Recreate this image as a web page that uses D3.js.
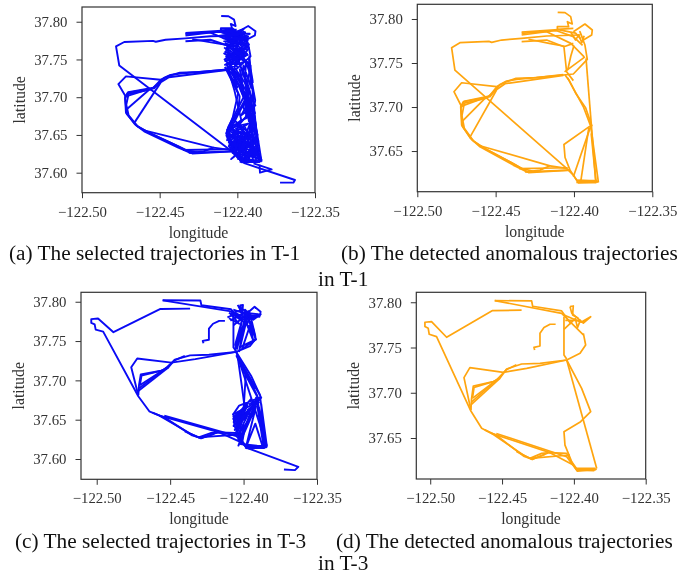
<!DOCTYPE html>
<html>
<head>
<meta charset="utf-8">
<script src="https://cdnjs.cloudflare.com/ajax/libs/d3/7.8.5/d3.min.js"></script>
<style>
  html, body { margin: 0; padding: 0; background: #fff; }
  svg { display: block; filter: blur(0.35px); }
  .axis text { font-family: "Liberation Serif", serif; font-size: 14.8px; fill: #333; }
  .axis-label { font-family: "Liberation Serif", serif; font-size: 15.8px; fill: #333; text-anchor: middle; }
  .caption { font-family: "Liberation Serif", serif; font-size: 21.3px; fill: #111; }
</style>
</head>
<body>
<div id="chart"></div>
<script>
let xTicks = [-122.50, -122.45, -122.40, -122.35];
let yTicksLong = [37.60, 37.65, 37.70, 37.75, 37.80];
let yTicksShort = [37.65, 37.70, 37.75, 37.80];

// T-1 anomalous trajectories, (b)
let routesT1 = [
  [[-122.3962,37.7818],[-122.4174,37.7807],[-122.4334,37.778],[-122.4462,37.7761],[-122.4525,37.7735],[-122.4543,37.7746],[-122.4728,37.7731],[-122.4781,37.7674],[-122.476,37.742],[-122.4047,37.6302],[-122.4004,37.6226],[-122.3972,37.6139],[-122.3844,37.615]],
  [[-122.4104,37.8076],[-122.4057,37.8072],[-122.4021,37.8027],[-122.4011,37.7943],[-122.4042,37.797],[-122.4034,37.7913],[-122.4106,37.7913],[-122.4106,37.7883],[-122.4004,37.7894]],
  [[-122.4004,37.7856],[-122.393,37.7943],[-122.3883,37.7875],[-122.3887,37.7818],[-122.394,37.7761],[-122.3962,37.7856],[-122.393,37.7704],[-122.3915,37.7541],[-122.4004,37.7375],[-122.4068,37.7364],[-122.4366,37.7314],[-122.443,37.7295],[-122.4472,37.7257],[-122.4536,37.7117],[-122.4706,37.706],[-122.4723,37.7003],[-122.4717,37.6795],[-122.466,37.6643],[-122.46,37.6548],[-122.4387,37.634],[-122.4302,37.6264],[-122.4217,37.6283],[-122.4153,37.6332],[-122.4047,37.6302]],
  [[-122.4068,37.7368],[-122.4240,37.7335],[-122.4370,37.7325],[-122.4435,37.7285],[-122.4490,37.7235],[-122.4540,37.7125],[-122.4702,37.7065],[-122.4722,37.6985],[-122.4712,37.6780],[-122.4650,37.6625],[-122.4580,37.6540],[-122.4380,37.6350],[-122.4290,37.6255],[-122.4025,37.6283]],
  [[-122.4068,37.7360],[-122.4300,37.7300],[-122.4440,37.7265],[-122.4500,37.7190],[-122.4560,37.7100],[-122.4700,37.7045],[-122.4715,37.6900],[-122.4700,37.6760],[-122.4640,37.6610],[-122.4570,37.6530],[-122.4400,37.6370],[-122.4330,37.6300],[-122.4260,37.6270]],
  [[-122.4494,37.7231],[-122.4717,37.7276],[-122.4766,37.7174],[-122.4717,37.7003]],
  [[-122.4494,37.7193],[-122.466,37.667]],
  [[-122.4568,37.7098],[-122.4712,37.684]],
  [[-122.4577,37.7100],[-122.4717,37.7010]],
  [[-122.4600,37.6560],[-122.4153,37.6332]],
  [[-122.3898,37.6783],[-122.4064,37.6575],[-122.4057,37.6427],[-122.4025,37.6283],[-122.3983,37.617],[-122.3850,37.6155]],
  [[-122.4057,37.7363],[-122.4030,37.7300],[-122.4004,37.7212],[-122.394,37.7003],[-122.3893,37.6783],[-122.3844,37.6145]],
  [[-122.4040,37.7330],[-122.3990,37.7160],[-122.3925,37.6990],[-122.3885,37.6780]],
  [[-122.3923,37.7553],[-122.386,37.615]],
  [[-122.3893,37.6783],[-122.4004,37.6207]],
  [[-122.3905,37.6770],[-122.3957,37.615]],
  [[-122.3890,37.6700],[-122.3860,37.6150]],
  [[-122.4004,37.7723],[-122.4064,37.7685],[-122.4047,37.7401],[-122.4004,37.7300]],
  [[-122.4334,37.7742],[-122.4174,37.7761],[-122.4064,37.7685]],
  [[-122.4334,37.7837],[-122.4111,37.7867],[-122.4004,37.78],[-122.3945,37.7700]],
  [[-122.4334,37.7818],[-122.4174,37.7855],[-122.4020,37.7723],[-122.3935,37.7570]],
  [[-122.4334,37.7850],[-122.4100,37.7880],[-122.3990,37.7840],[-122.3960,37.7780]],
  [[-122.4290,37.7770],[-122.4150,37.7720],[-122.4060,37.7690]],
  [[-122.4313,37.6264],[-122.4025,37.6283]],
  [[-122.4350,37.6300],[-122.4040,37.6310]],
  [[-122.4020,37.7850],[-122.3990,37.7760],[-122.3970,37.7820],[-122.3950,37.7730],[-122.3935,37.7810]],
  [[-122.4060,37.7400],[-122.3930,37.7570]],
  [[-122.4040,37.7420],[-122.4020,37.7580],[-122.4000,37.7700]],
  [[-122.3985,37.6145],[-122.3860,37.6140],[-122.3980,37.6165],[-122.3850,37.6165]]
];

// T-1 normal traffic that fills the blue panel (a)
let denseT1 = [
  [[-122.4060,37.7370],[-122.3985,37.7010],[-122.3995,37.6810],[-122.4065,37.6565],[-122.4045,37.6400],[-122.3925,37.6185],[-122.3880,37.6620],[-122.3925,37.7110],[-122.4020,37.7400],[-122.3925,37.7650],[-122.4075,37.7820]],
  [[-122.4080,37.7400],[-122.3995,37.7050],[-122.4030,37.6730],[-122.4072,37.6520],[-122.4000,37.6200],[-122.3900,37.6170],[-122.3905,37.6700],[-122.3945,37.7200],[-122.4010,37.7600],[-122.3960,37.7880]],
  [[-122.4050,37.7440],[-122.3960,37.7000],[-122.4060,37.6600],[-122.4030,37.6260],[-122.3860,37.6190],[-122.3935,37.6780],[-122.3975,37.7250],[-122.4082,37.7500],[-122.3935,37.7720],[-122.4040,37.7880]],
  [[-122.3985,37.7380],[-122.3950,37.6950],[-122.4068,37.6480],[-122.3960,37.6140],[-122.3875,37.6500],[-122.3960,37.6860],[-122.3915,37.7420],[-122.4070,37.7650],[-122.3990,37.7830]],
  [[-122.4020,37.7350],[-122.3930,37.7040],[-122.4040,37.6640],[-122.3990,37.6300],[-122.3845,37.6170],[-122.3915,37.6550],[-122.3885,37.6960],[-122.3930,37.7460],[-122.4078,37.7600],[-122.3950,37.7860]],
  [[-122.4070,37.7450],[-122.4020,37.7100],[-122.3975,37.6700],[-122.4060,37.6520],[-122.3950,37.6350],[-122.4040,37.6180],[-122.3900,37.6400],[-122.3990,37.6630],[-122.3890,37.6880],[-122.3965,37.7380]],
  [[-122.4070,37.6540],[-122.3880,37.6300],[-122.4045,37.6590],[-122.3865,37.6420],[-122.4010,37.6680],[-122.3875,37.6250],[-122.4060,37.6440],[-122.3900,37.6230],[-122.4050,37.6340],[-122.3930,37.6140],[-122.4025,37.6540],[-122.3905,37.6500],[-122.4000,37.6410],[-122.3890,37.6580],[-122.3980,37.6250],[-122.3960,37.6600]],
  [[-122.4062,37.6560],[-122.3955,37.6460],[-122.4066,37.6500],[-122.3925,37.6340],[-122.4055,37.6400],[-122.3945,37.6240],[-122.4030,37.6480],[-122.3915,37.6440],[-122.4020,37.6610],[-122.3930,37.6650],[-122.4040,37.6500],[-122.3960,37.6380],[-122.4015,37.6300],[-122.3900,37.6350]],
  [[-122.4080,37.7720],[-122.3935,37.7560],[-122.4078,37.7480],[-122.3925,37.7700],[-122.4070,37.7370],[-122.3945,37.7480],[-122.4060,37.7760],[-122.3930,37.7800],[-122.4040,37.7640],[-122.3938,37.7640],[-122.4072,37.7540],[-122.4000,37.7400],[-122.4050,37.7840],[-122.3965,37.7660]],
  [[-122.4040,37.7880],[-122.3990,37.7700],[-122.4080,37.7820],[-122.3960,37.7900],[-122.4060,37.7720],[-122.3920,37.7840],[-122.4085,37.7860],[-122.3940,37.7760],[-122.4030,37.7910],[-122.3980,37.7770],[-122.4075,37.7900],[-122.3950,37.7830]],
  [[-122.4072,37.6480],[-122.4035,37.6650],[-122.4066,37.6430],[-122.4010,37.6560],[-122.4055,37.6350],[-122.3985,37.6660],[-122.4042,37.6290],[-122.4005,37.6470],[-122.4020,37.6240],[-122.3975,37.6520],[-122.3995,37.6180],[-122.3960,37.6420],[-122.3970,37.6150],[-122.3940,37.6540]],
  [[-122.3850,37.6160],[-122.3950,37.6600],[-122.3868,37.6200],[-122.3930,37.6520],[-122.3880,37.6180],[-122.3915,37.6330],[-122.3860,37.6320],[-122.3925,37.6220],[-122.3885,37.6420],[-122.3945,37.6190],[-122.3900,37.6280]],
  [[-122.3995,37.7280],[-122.3890,37.6600],[-122.3985,37.7150],[-122.3870,37.6500],[-122.3950,37.7200],[-122.3905,37.6620],[-122.3965,37.7100],[-122.3925,37.6680],[-122.3930,37.7150],[-122.3945,37.6720],[-122.3895,37.7050],[-122.3975,37.6760],[-122.3880,37.6900]],
  [[-122.4078,37.7400],[-122.4000,37.7130],[-122.4040,37.7380],[-122.3980,37.7180],[-122.3960,37.7420],[-122.3910,37.7120],[-122.3925,37.7500],[-122.3900,37.7200],[-122.3945,37.7470],[-122.3950,37.7220]],
  [[-122.4085,37.7660],[-122.4000,37.7500],[-122.4085,37.7580],[-122.3990,37.7460],[-122.4080,37.7430],[-122.3975,37.7530],[-122.4075,37.7700],[-122.3955,37.7540],[-122.4050,37.7760],[-122.3935,37.7680],[-122.4020,37.7800],[-122.3928,37.7750]],
  [[-122.4100,37.7860],[-122.4000,37.7820],[-122.4120,37.7810],[-122.3950,37.7860],[-122.4090,37.7780],[-122.3930,37.7780],[-122.4085,37.7740],[-122.3985,37.7720]]
];

let tailT1 = [
  [[-122.3896,37.6124],[-122.3779,37.6044],[-122.3854,37.6000],[-122.3858,37.6110]],
  [[-122.3960,37.6130],[-122.3629,37.5903],[-122.3639,37.5868],[-122.3725,37.5868]]
];

// T-3 anomalous trajectories, (d)
let routesT3 = [
  [[-122.4364,37.7912],[-122.4566,37.7908],[-122.4886,37.7613],[-122.4991,37.7786],[-122.5037,37.7779],[-122.5037,37.7731],[-122.5014,37.7712],[-122.5007,37.7646],[-122.4956,37.762],[-122.4717,37.6798],[-122.4642,37.6607],[-122.4573,37.6551],[-122.4352,37.6312],[-122.4306,37.6275],[-122.4224,37.633],[-122.4166,37.6338],[-122.405,37.633],[-122.4004,37.6201],[-122.3976,37.6135],[-122.3841,37.6157]],
  [[-122.4551,37.8018],[-122.4294,37.8015],[-122.4287,37.7956],[-122.4085,37.7904],[-122.4020,37.7760]],
  [[-122.4551,37.8018],[-122.4085,37.7878],[-122.3934,37.7639]],
  [[-122.4069,37.7841],[-122.4069,37.7418],[-122.405,37.7373]],
  [[-122.405,37.7362],[-122.3841,37.6164]],
  [[-122.405,37.7362],[-122.3946,37.7049],[-122.3883,37.6791],[-122.3953,37.668],[-122.4069,37.657],[-122.4062,37.6422],[-122.4015,37.6238],[-122.3976,37.6150],[-122.3845,37.6150]],
  [[-122.3934,37.7657],[-122.3918,37.7528],[-122.3957,37.7436],[-122.405,37.7362],[-122.4236,37.7325],[-122.4364,37.7318],[-122.4468,37.7263],[-122.4515,37.716],[-122.4561,37.7123],[-122.47,37.7075],[-122.4712,37.6938],[-122.4717,37.6810]],
  [[-122.405,37.7362],[-122.4329,37.727],[-122.4491,37.7226],[-122.4724,37.7278],[-122.4765,37.7167],[-122.4717,37.6810]],
  [[-122.4400,37.7310],[-122.4470,37.7255],[-122.4545,37.7130],[-122.4695,37.7060],[-122.4705,37.6950]],
  [[-122.4515,37.716],[-122.4717,37.6865]],
  [[-122.4526,37.716],[-122.4712,37.69]],
  [[-122.4538,37.7141],[-122.4707,37.6938]],
  [[-122.4573,37.6551],[-122.4166,37.6338],[-122.4004,37.6201]],
  [[-122.4540,37.6550],[-122.4050,37.6293],[-122.3976,37.6135]],
  [[-122.4620,37.6590],[-122.4540,37.6530],[-122.4350,37.6300],[-122.4290,37.6265],[-122.4180,37.6335]],
  [[-122.4306,37.6275],[-122.4027,37.6312]],
  [[-122.4400,37.6350],[-122.4290,37.6262],[-122.4200,37.6320]],
  [[-122.4027,37.7952],[-122.4004,37.7959],[-122.4009,37.786],[-122.3969,37.7823]],
  [[-122.4027,37.7952],[-122.4015,37.7880],[-122.3934,37.7770],[-122.3883,37.7840],[-122.3950,37.7780],[-122.4069,37.7860]],
  [[-122.4069,37.7700],[-122.3990,37.7820],[-122.3975,37.7720],[-122.3955,37.7800],[-122.4060,37.7800]],
  [[-122.4127,37.7757],[-122.4166,37.7757],[-122.4208,37.772],[-122.4236,37.7657],[-122.4236,37.7517],[-122.4278,37.7502],[-122.4273,37.7473]],
  [[-122.3985,37.6145],[-122.3860,37.6140],[-122.3980,37.6165],[-122.3850,37.6165]]
];

let denseT3 = [
  [[-122.4060,37.7380],[-122.4010,37.7780],[-122.4045,37.7400],[-122.3990,37.7790],[-122.4030,37.7370],[-122.3975,37.7800],[-122.4058,37.7450],[-122.4020,37.7700],[-122.4038,37.7500]],
  [[-122.3915,37.7512],[-122.3960,37.7760],[-122.3935,37.7510],[-122.3975,37.7700],[-122.3920,37.7560],[-122.3945,37.7760],[-122.4010,37.7400],[-122.3915,37.7520],[-122.4030,37.7420]],
  [[-122.4050,37.7320],[-122.3905,37.6800],[-122.4035,37.7290],[-122.3890,37.6820],[-122.4020,37.7230],[-122.3925,37.6900],[-122.4045,37.7300],[-122.3955,37.6960],[-122.4010,37.7150],[-122.3900,37.6770]],
  [[-122.3888,37.6792],[-122.3842,37.6156],[-122.3905,37.6740],[-122.3855,37.6160],[-122.3895,37.6650],[-122.3848,37.6150],[-122.3915,37.6780],[-122.3865,37.6170],[-122.3880,37.6700],[-122.3842,37.6170]],
  [[-122.4074,37.6558],[-122.4030,37.6680],[-122.3890,37.6780],[-122.4068,37.6420],[-122.3915,37.6700],[-122.4060,37.6370],[-122.3945,37.6660],[-122.4040,37.6300],[-122.3925,37.6600],[-122.4055,37.6500],[-122.3950,37.6760],[-122.4074,37.6500]],
  [[-122.4000,37.6320],[-122.3935,37.6640],[-122.4020,37.6220],[-122.3960,37.6560],[-122.4035,37.6170],[-122.3915,37.6670],[-122.3985,37.6145],[-122.3920,37.6450],[-122.3870,37.6160],[-122.3960,37.6140],[-122.3845,37.6160]],
  [[-122.4072,37.6530],[-122.4010,37.6620],[-122.4068,37.6470],[-122.3990,37.6640],[-122.4060,37.6430],[-122.3975,37.6680],[-122.4050,37.6350],[-122.4015,37.6480],[-122.4030,37.6250],[-122.3990,37.6420],[-122.4010,37.6200]],
  [[-122.4040,37.7300],[-122.4010,37.6900],[-122.3990,37.6620]],
  [[-122.3985,37.7060],[-122.4000,37.6640]],
  [[-122.4100,37.7860],[-122.4020,37.7780],[-122.3925,37.7936],[-122.3884,37.7873],[-122.3892,37.7809],[-122.3960,37.7830],[-122.4070,37.7900]],
  [[-122.4110,37.7800],[-122.4050,37.7850],[-122.3990,37.7760],[-122.3900,37.7840],[-122.4000,37.7860],[-122.4090,37.7760]],
  [[-122.4100,37.7790],[-122.4030,37.7720],[-122.4090,37.7850],[-122.4000,37.7900],[-122.3950,37.7790]],
  [[-122.4020,37.7950],[-122.4010,37.7850],[-122.4040,37.7960]],
  [[-122.4065,37.6520],[-122.4035,37.6600],[-122.4062,37.6460],[-122.4020,37.6590],[-122.4052,37.6400],[-122.4000,37.6560],[-122.4042,37.6340],[-122.3985,37.6580]],
  [[-122.3940,37.6640],[-122.3880,37.6780],[-122.3960,37.6700],[-122.3895,37.6720],[-122.3975,37.6620]],
  [[-122.4040,37.6260],[-122.3990,37.6170],[-122.3910,37.6170],[-122.4020,37.6190],[-122.3870,37.6145]],
  [[-122.3975,37.7790],[-122.3990,37.7900],[-122.3945,37.7800],[-122.3965,37.7880],[-122.4040,37.7810]]
];

let tailT3 = [
  [[-122.3968,37.6134],[-122.3627,37.5901],[-122.365,37.5859],[-122.3725,37.5867]],
  [[-122.3990,37.6150],[-122.3950,37.6130],[-122.3850,37.6165]]
];

let panels = [
  {id: "a", frame: [82, 315, 7, 192.7], xDomain: [-122.50, -122.35], yDomain: [37.5735, 37.8195], yTicks: yTicksLong, color: "#0a0af5", width: 1.9, lines: routesT1.concat(denseT1, tailT1)},
  {id: "b", frame: [417.3, 652.3, 4.3, 191.7], xDomain: [-122.50, -122.35], yDomain: [37.6038, 37.8167], yTicks: yTicksShort, color: "#ffa50f", width: 1.7, lines: routesT1},
  {id: "c", frame: [81, 317, 292.3, 479.3], xDomain: [-122.5107, -122.35], yDomain: [37.5742, 37.812], yTicks: yTicksLong, color: "#0a0af5", width: 1.9, lines: routesT3.concat(denseT3, tailT3)},
  {id: "d", frame: [416.3, 645.7, 292.3, 479], xDomain: [-122.5097, -122.35], yDomain: [37.6047, 37.811], yTicks: yTicksShort, color: "#ffa50f", width: 1.7, lines: routesT3}
];

let captions = [
  {text: "(a) The selected trajectories in T-1", x: 9, y: 260},
  {text: "(b) The detected anomalous trajectories", x: 341, y: 260},
  {text: "in T-1", x: 318, y: 286},
  {text: "(c) The selected trajectories in T-3", x: 15, y: 548},
  {text: "(d) The detected anomalous trajectories", x: 336, y: 548},
  {text: "in T-3", x: 318, y: 569.5}
];

let svg = d3.select("#chart").append("svg")
    .attr("width", 680)
    .attr("height", 575);

panels.forEach(drawPanel);

svg.selectAll(".caption")
    .data(captions)
    .enter().append("text")
    .attr("class", "caption")
    .attr("x", d => d.x)
    .attr("y", d => d.y)
    .text(d => d.text);

function drawPanel(p) {
    let [left, right, top, bottom] = p.frame;
    let x = d3.scaleLinear().domain(p.xDomain).range([left, right]);
    let y = d3.scaleLinear().domain(p.yDomain).range([bottom, top]);

    let line = d3.line().x(d => x(d[0])).y(d => y(d[1]));

    svg.append("g")
        .selectAll("path")
        .data(p.lines)
        .enter().append("path")
        .attr("d", line)
        .attr("fill", "none")
        .attr("stroke", p.color)
        .attr("stroke-width", p.width)
        .attr("stroke-linejoin", "round");

    let xAxis = d3.axisBottom(x)
        .tickValues(xTicks)
        .tickSizeOuter(0)
        .tickSize(5.5)
        .tickPadding(8)
        .tickFormat(d => d3.format(".2f")(d).replace("-", "\u2212"));

    let yAxis = d3.axisLeft(y)
        .tickValues(p.yTicks)
        .tickSizeOuter(0)
        .tickSize(5.5)
        .tickPadding(9)
        .tickFormat(d3.format(".2f"));

    let xg = svg.append("g")
        .attr("class", "axis")
        .attr("transform", "translate(0," + bottom + ")")
        .call(xAxis);
    let yg = svg.append("g")
        .attr("class", "axis")
        .attr("transform", "translate(" + left + ",0)")
        .call(yAxis);
    xg.select(".domain").remove();
    yg.select(".domain").remove();
    svg.selectAll(".axis line").attr("stroke", "#333").attr("stroke-width", 1);

    // frame on top of the lines
    svg.append("rect")
        .attr("x", left)
        .attr("y", top)
        .attr("width", right - left)
        .attr("height", bottom - top)
        .attr("fill", "none")
        .attr("stroke", "#333")
        .attr("stroke-width", 1.2);

    svg.append("text")
        .attr("class", "axis-label")
        .attr("x", (left + right) / 2)
        .attr("y", bottom + 45)
        .text("longitude");

    svg.append("text")
        .attr("class", "axis-label")
        .attr("transform", "translate(" + (left - 57) + "," + ((top + bottom) / 2) + ") rotate(-90)")
        .text("latitude");
}
</script>
</body>
</html>
